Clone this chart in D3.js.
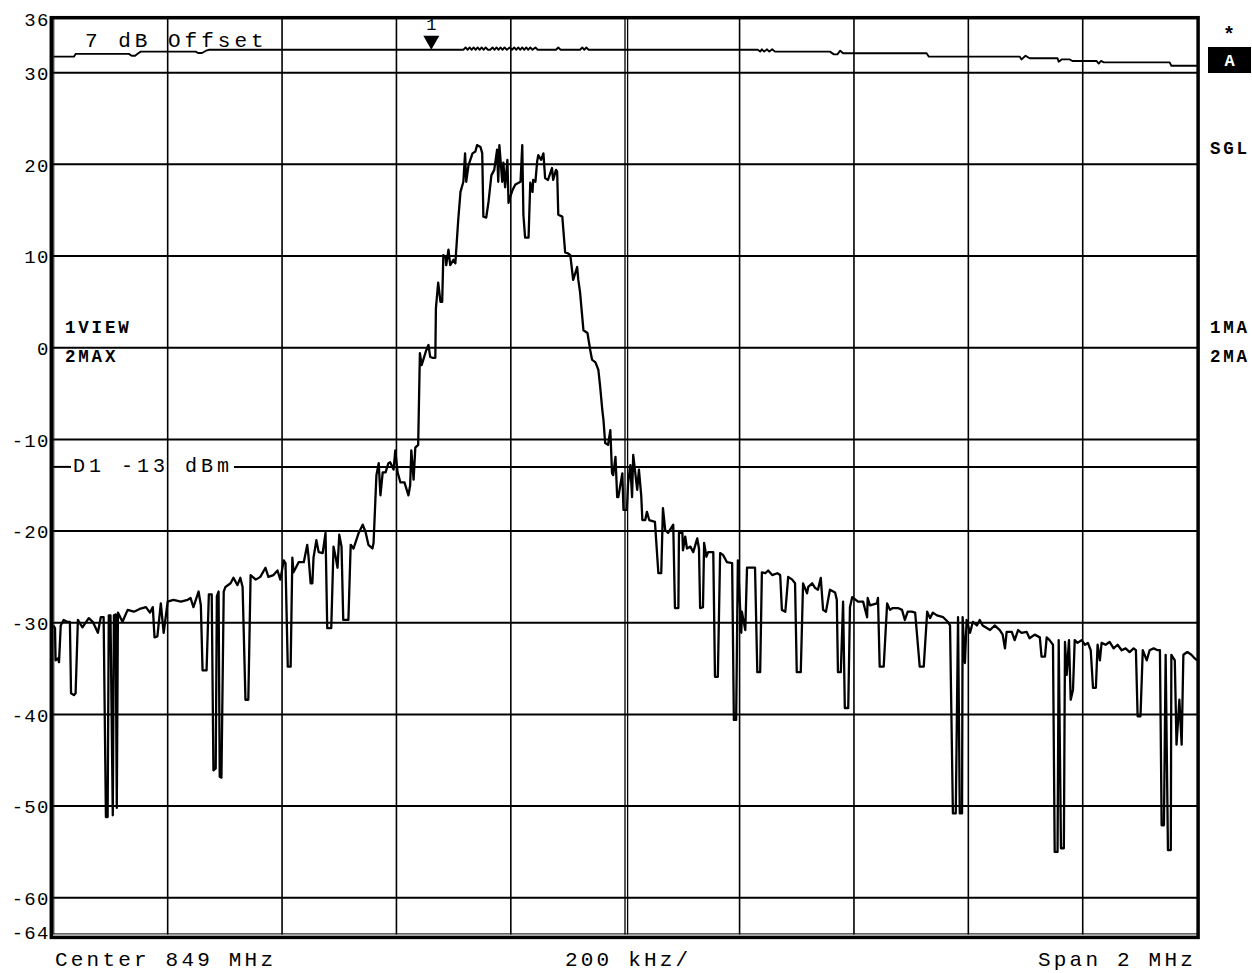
<!DOCTYPE html>
<html><head><meta charset="utf-8">
<script src="https://cdn.jsdelivr.net/npm/d3@7"></script>
<style>body{margin:0;background:#fff}svg{display:block}</style>
</head><body>
<svg id="c" width="1252" height="973"></svg>
<script>
// ---------- DATA ----------
const levelTicks = [36,30,20,10,0,-10,-20,-30,-40,-50,-60,-64];
const gridLevels = [30,20,10,0,-10,-20,-30,-40,-50,-60];
const gridOffsetsKHz = [-800,-600,-400,-200,0,200,400,600,800];
const displayLineDbm = -13;
const markerKHz = -339, markerDbm = 32.5, markerLabel = "1";
const bottomLabels = ["Center 849 MHz", "200 kHz/", "Span 2 MHz"];
const leftStatus = ["1VIEW", "2MAX"];
const rightStatus = ["1MA", "2MA"];
const offsetLabel = "7 dB Offset";
const displayLineLabel = "D1 -13 dBm";

// trace 1: [frequency offset from 849 MHz in kHz, level dBm]
const spectrum = [
[-1000,-30.3],[-997,-30.6],[-996,-34.1],[-992,-33.9],[-990,-34.3],[-987,-30.3],[-982,-29.7],[-976,-29.9],[-971,-29.9],[-969,-37.7],
[-964,-37.9],[-961,-37.7],[-957,-29.7],[-949,-30.5],[-938,-29.5],[-931,-29.9],[-922,-31.1],[-917,-29.4],[-912,-29.4],[-908,-51.2],
[-905,-51.2],[-903,-29.2],[-900,-29.2],[-896,-51.0],[-894,-29.2],[-891,-29.1],[-889,-50.2],[-887,-28.9],[-879,-29.9],[-870,-28.6],
[-859,-28.8],[-849,-28.5],[-838,-28.3],[-831,-28.9],[-826,-28.3],[-823,-31.6],[-818,-31.5],[-812,-27.9],[-807,-31.1],[-800,-27.7],
[-790,-27.5],[-777,-27.7],[-765,-27.5],[-760,-27.3],[-755,-28.3],[-746,-26.6],[-742,-28.1],[-739,-35.2],[-732,-35.2],[-728,-26.9],
[-723,-26.9],[-720,-46.1],[-716,-45.9],[-714,-27.1],[-711,-26.6],[-709,-46.8],[-706,-46.9],[-702,-26.6],[-699,-26.1],[-690,-25.7],
[-685,-25.1],[-678,-25.9],[-673,-25.1],[-669,-26.1],[-664,-38.4],[-659,-38.4],[-655,-24.8],[-646,-25.3],[-638,-25.0],[-629,-24.0],
[-624,-25.0],[-615,-24.8],[-608,-24.3],[-603,-25.3],[-597,-23.2],[-594,-23.5],[-590,-34.8],[-585,-34.8],[-582,-22.9],[-580,-24.5],
[-571,-23.4],[-562,-23.4],[-556,-21.5],[-554,-22.6],[-550,-25.7],[-547,-25.7],[-545,-22.9],[-540,-21.0],[-536,-22.3],[-529,-22.4],
[-524,-20.2],[-521,-30.6],[-514,-30.6],[-510,-21.7],[-507,-22.6],[-503,-24.0],[-500,-20.4],[-496,-21.7],[-493,-29.7],[-484,-29.7],
[-480,-21.5],[-475,-21.9],[-466,-20.2],[-459,-19.3],[-454,-20.1],[-449,-21.5],[-442,-21.9],[-440,-21.3],[-435,-13.9],[-431,-12.6],
[-428,-16.1],[-424,-13.6],[-419,-13.6],[-414,-12.6],[-411,-12.5],[-405,-13.3],[-402,-11.2],[-398,-13.6],[-393,-14.7],[-386,-14.7],
[-379,-16.1],[-376,-15.0],[-374,-11.2],[-370,-14.4],[-367,-10.9],[-362,-10.6],[-359,-0.6],[-356,-1.9],[-355,-1.7],[-348,-0.3],
[-344,0.3],[-341,-1.0],[-337,-1.1],[-332,-1.1],[-331,4.3],[-327,7.1],[-323,5.0],[-320,5.0],[-318,10.1],[-314,9.9],
[-313,9.0],[-309,10.7],[-306,9.0],[-300,9.6],[-297,9.2],[-292,13.9],[-288,17.0],[-283,18.1],[-280,21.2],[-278,18.1],
[-274,19.9],[-267,21.2],[-262,21.4],[-259,22.1],[-253,21.9],[-250,21.2],[-248,14.3],[-243,14.2],[-239,15.9],[-234,18.8],
[-229,19.4],[-224,21.6],[-222,18.1],[-220,22.1],[-215,18.1],[-213,20.2],[-210,17.5],[-206,20.5],[-204,15.8],[-203,16.1],
[-197,17.2],[-192,17.8],[-183,18.1],[-180,22.1],[-178,14.5],[-175,12.0],[-169,12.0],[-166,18.0],[-162,17.0],[-161,18.3],
[-157,18.1],[-154,20.3],[-152,21.0],[-147,20.5],[-143,21.2],[-140,18.5],[-135,18.3],[-128,19.6],[-126,18.3],[-121,19.4],
[-119,19.2],[-117,14.5],[-110,14.3],[-105,10.4],[-100,10.3],[-96,10.1],[-91,7.4],[-84,8.8],[-82,7.4],[-79,6.1],
[-73,1.9],[-66,1.6],[-61,-0.3],[-58,-1.3],[-52,-1.6],[-47,-2.4],[-44,-4.1],[-40,-6.8],[-38,-7.9],[-35,-10.4],
[-30,-10.6],[-26,-9.0],[-23,-13.7],[-21,-13.9],[-17,-11.9],[-14,-16.3],[-12,-16.3],[-5,-13.7],[-3,-17.7],[3,-17.7],
[5,-14.8],[9,-12.8],[12,-16.3],[14,-11.7],[21,-15.5],[24,-13.3],[28,-16.1],[30,-18.8],[35,-18.8],[38,-17.9],
[42,-18.8],[52,-19.0],[58,-24.6],[63,-24.6],[66,-17.5],[70,-19.9],[75,-20.2],[84,-19.3],[87,-28.4],[93,-28.4],
[94,-20.2],[100,-20.2],[101,-22.1],[105,-20.6],[108,-21.9],[114,-21.7],[119,-22.3],[126,-20.8],[129,-21.9],[131,-28.4],
[136,-28.3],[138,-21.3],[142,-22.8],[145,-22.3],[154,-22.3],[157,-35.9],[162,-35.9],[166,-22.4],[171,-22.6],[178,-23.4],
[187,-23.5],[190,-40.6],[194,-40.6],[197,-23.2],[203,-31.1],[204,-28.8],[210,-30.8],[213,-24.0],[222,-24.0],[227,-24.0],
[231,-35.4],[236,-35.4],[239,-24.5],[245,-24.6],[250,-24.3],[257,-24.8],[266,-24.6],[271,-24.8],[274,-28.6],[280,-28.8],
[285,-25.0],[292,-25.3],[297,-25.7],[300,-35.4],[307,-35.4],[311,-25.7],[318,-26.8],[320,-26.1],[327,-25.7],[332,-26.2],
[337,-26.4],[342,-25.1],[346,-28.6],[351,-28.8],[358,-26.4],[367,-26.7],[370,-27.5],[372,-35.4],[377,-35.4],[381,-27.7],
[384,-39.3],[390,-39.3],[393,-28.3],[397,-27.2],[407,-27.7],[416,-27.7],[423,-29.4],[424,-27.3],[428,-28.1],[440,-27.9],
[442,-27.3],[445,-34.8],[452,-34.8],[458,-27.9],[463,-28.6],[468,-28.4],[477,-28.4],[484,-28.6],[489,-29.7],[494,-28.8],
[501,-28.8],[507,-28.9],[515,-34.8],[522,-34.8],[528,-28.8],[533,-29.5],[538,-28.9],[545,-29.2],[556,-29.4],[564,-29.9],
[568,-30.3],[573,-50.8],[578,-50.8],[582,-29.4],[585,-50.8],[589,-50.8],[590,-29.4],[594,-34.4],[597,-29.7],[603,-31.1],
[608,-29.9],[615,-30.3],[620,-29.7],[625,-30.3],[638,-30.8],[646,-30.3],[655,-30.8],[660,-31.3],[664,-32.8],[667,-31.0],
[676,-31.0],[681,-31.9],[687,-30.8],[693,-31.1],[702,-31.0],[707,-31.7],[716,-31.3],[725,-31.6],[728,-33.7],[734,-33.7],
[737,-31.6],[742,-31.9],[748,-32.4],[751,-55.0],[756,-55.0],[758,-31.9],[762,-54.6],[767,-54.6],[769,-32.1],[772,-35.7],
[776,-31.9],[779,-38.4],[783,-37.3],[786,-31.9],[791,-32.2],[798,-31.9],[804,-32.4],[809,-32.2],[814,-33.0],[818,-37.1],
[823,-37.1],[826,-32.4],[830,-34.1],[833,-32.2],[840,-32.4],[847,-32.1],[854,-32.8],[861,-32.4],[868,-33.0],[875,-32.8],
[882,-33.2],[889,-32.8],[893,-33.0],[896,-40.2],[901,-40.2],[905,-33.0],[912,-34.1],[917,-33.0],[924,-32.8],[931,-33.0],
[935,-33.0],[938,-52.1],[942,-52.1],[945,-33.5],[949,-54.8],[954,-54.8],[955,-33.5],[961,-34.1],[964,-43.3],[969,-38.4],
[973,-43.3],[976,-33.5],[983,-33.2],[990,-33.5],[996,-33.9],[1000,-34.1]
];

// trace 2 (max hold with 7 dB offset): [kHz, dBm]
const maxHold = [
[-1000,31.75],[-964,31.75],[-961,32.05],[-868,32.05],[-863,31.85],[-857,31.85],[-852,32.1],[-847,32.3],[-751,32.3],[-747,32.15],
[-740,32.15],[-733,32.4],[-728,32.5],[-283,32.5],[-279,32.75],[-275.5,32.5],[-272,32.75],[-268.5,32.5],[-265,32.75],[-261.5,32.5],
[-258,32.75],[-254.5,32.5],[-251,32.75],[-247.5,32.5],[-244,32.75],[-240,32.5],[-236,32.5],[-232,32.75],[-228.5,32.5],[-225,32.75],
[-221.5,32.5],[-218,32.75],[-214.5,32.5],[-211,32.75],[-207,32.5],[-202,32.75],[-198,32.5],[-194,32.75],[-190.5,32.5],[-187,32.75],
[-183.5,32.5],[-180,32.75],[-176.5,32.5],[-173,32.75],[-169.5,32.5],[-166,32.75],[-162,32.5],[-157,32.75],[-153,32.5],[-121,32.5],
[-117,32.75],[-113,32.5],[-79,32.5],[-75,32.75],[-71.5,32.5],[-68,32.75],[-64,32.5],[232,32.5],[236,32.3],[239,32.55],
[243,32.3],[248,32.55],[252,32.3],[257,32.55],[262,32.3],[358,32.3],[365,32.0],[371,32.0],[376,32.4],[381,32.12],
[527,32.12],[531,31.75],[690,31.75],[693,31.45],[700,31.85],[707,31.57],[756,31.57],[758,31.2],[763,31.45],[777,31.45],
[782,31.28],[824,31.28],[828,31.0],[832,31.28],[837,31.13],[952,31.13],[955,30.76],[1000,30.76]
];

// ---------- DRAW ----------
const MONO = "'Liberation Mono','Courier New',monospace";
const svg = d3.select("#c");
const P = {l:53.3, r:1197.1, t:17.7, b:934.4};
const x = d3.scaleLinear().domain([-1000,1000]).range([P.l,P.r]);
const y = d3.scaleLinear().domain([-64,36]).range([P.b,P.t]);

svg.append("rect").attr("width",1252).attr("height",973).attr("fill","#fff");

svg.append("defs").append("clipPath").attr("id","pc")
  .append("rect").attr("x",P.l).attr("y",P.t).attr("width",P.r-P.l).attr("height",P.b-P.t);

// horizontal grid
svg.append("g").selectAll("line").data(gridLevels).join("line")
  .attr("x1",P.l).attr("x2",P.r).attr("y1",d=>y(d)).attr("y2",d=>y(d))
  .attr("stroke","#000").attr("stroke-width",2);

// vertical grid
const vg = svg.append("g");
vg.selectAll("line").data(gridOffsetsKHz.filter(d=>d!==0)).join("line")
  .attr("x1",d=>x(d)).attr("x2",d=>x(d)).attr("y1",P.t).attr("y2",P.b)
  .attr("stroke","#000").attr("stroke-width",1.6);
[ -1.2, 1.4 ].forEach(o=>{
  vg.append("line").attr("x1",x(0)+o+1).attr("x2",x(0)+o+1).attr("y1",P.t).attr("y2",P.b)
    .attr("stroke","#000").attr("stroke-width",1.3);
});

// display line D1
const d1y = y(displayLineDbm);
svg.append("line").attr("x1",P.l).attr("x2",71).attr("y1",d1y).attr("y2",d1y)
  .attr("stroke","#000").attr("stroke-width",2);
svg.append("line").attr("x1",234).attr("x2",P.r).attr("y1",d1y).attr("y2",d1y)
  .attr("stroke","#000").attr("stroke-width",2);
svg.append("text").attr("x",73).attr("y",472).text(displayLineLabel)
  .attr("font-family",MONO).attr("font-size",20).attr("letter-spacing",4).attr("fill","#000");

// frame
svg.append("rect").attr("x",P.l-2).attr("y",P.t).attr("width",P.r-P.l+3).attr("height",P.b-P.t+3)
  .attr("fill","none").attr("stroke","#000").attr("stroke-width",3.5);
svg.append("line").attr("x1",P.l+0.5).attr("x2",P.l+0.5).attr("y1",P.t).attr("y2",P.b)
  .attr("stroke","#000").attr("stroke-width",1);
svg.append("line").attr("x1",P.l).attr("x2",P.r).attr("y1",P.b-0.5).attr("y2",P.b-0.5)
  .attr("stroke","#000").attr("stroke-width",1);

// y tick labels via axis
const ya = svg.append("g").attr("transform",`translate(${P.l-5},0)`)
  .call(d3.axisLeft(y).tickValues(levelTicks).tickSize(0).tickPadding(0).tickFormat(d=>String(d)));
ya.select(".domain").remove();
ya.selectAll("text").attr("font-family",MONO).attr("font-size",19).attr("letter-spacing",1.2)
  .attr("fill","#000").attr("x",1.2).attr("dy","0.36em");
ya.selectAll(".tick").filter(d=>d===-64).select("text").attr("dy","0.2em");
ya.selectAll(".tick").filter(d=>d===36).select("text").attr("dy","0.4em");

// traces
const line = d3.line().x(d=>x(d[0])).y(d=>y(d[1]));
const tg = svg.append("g").attr("clip-path","url(#pc)");
tg.append("path").datum(maxHold).attr("d",line).attr("fill","none")
  .attr("stroke","#000").attr("stroke-width",1.9).attr("stroke-linejoin","round");
tg.append("path").datum(spectrum).attr("d",line).attr("fill","none")
  .attr("stroke","#000").attr("stroke-width",2.3).attr("stroke-linejoin","round");

// marker
const mx = x(markerKHz), my = y(markerDbm);
svg.append("path").attr("d",`M${mx-8},${my-14}L${mx+8},${my-14}L${mx},${my}Z`).attr("fill","#000");
svg.append("text").attr("x",mx).attr("y",30).attr("text-anchor","middle").text(markerLabel)
  .attr("font-family",MONO).attr("font-size",17).attr("fill","#000");

// offset label
svg.append("text").attr("x",85).attr("y",46.5).text(offsetLabel)
  .attr("font-family",MONO).attr("font-size",21).attr("letter-spacing",4).attr("fill","#000");

// status labels
const boldText = (t,xx,yy)=>svg.append("text").attr("x",xx).attr("y",yy).text(t)
  .attr("font-family",MONO).attr("font-size",17.5).attr("font-weight","bold")
  .attr("letter-spacing",2.8).attr("fill","#000");
leftStatus.forEach((t,i)=>boldText(t,65,333+i*28.5));
rightStatus.forEach((t,i)=>boldText(t,1210,333+i*28.5));
boldText("SGL",1210,153.5);
svg.append("text").attr("x",1229).attr("y",41).attr("text-anchor","middle").text("*")
  .attr("font-family",MONO).attr("font-size",20).attr("font-weight","bold").attr("fill","#000");
svg.append("rect").attr("x",1208).attr("y",47).attr("width",43).attr("height",26).attr("fill","#000");
svg.append("text").attr("x",1229.5).attr("y",66).attr("text-anchor","middle").text("A")
  .attr("font-family",MONO).attr("font-size",17).attr("font-weight","bold").attr("fill","#fff");

// bottom labels
const bx = [55, 565, 1038];
bottomLabels.forEach((t,i)=>{
  svg.append("text").attr("x",bx[i]).attr("y",966).text(t)
    .attr("font-family",MONO).attr("font-size",21).attr("letter-spacing",3.2).attr("fill","#000");
});
</script>
</body></html>
